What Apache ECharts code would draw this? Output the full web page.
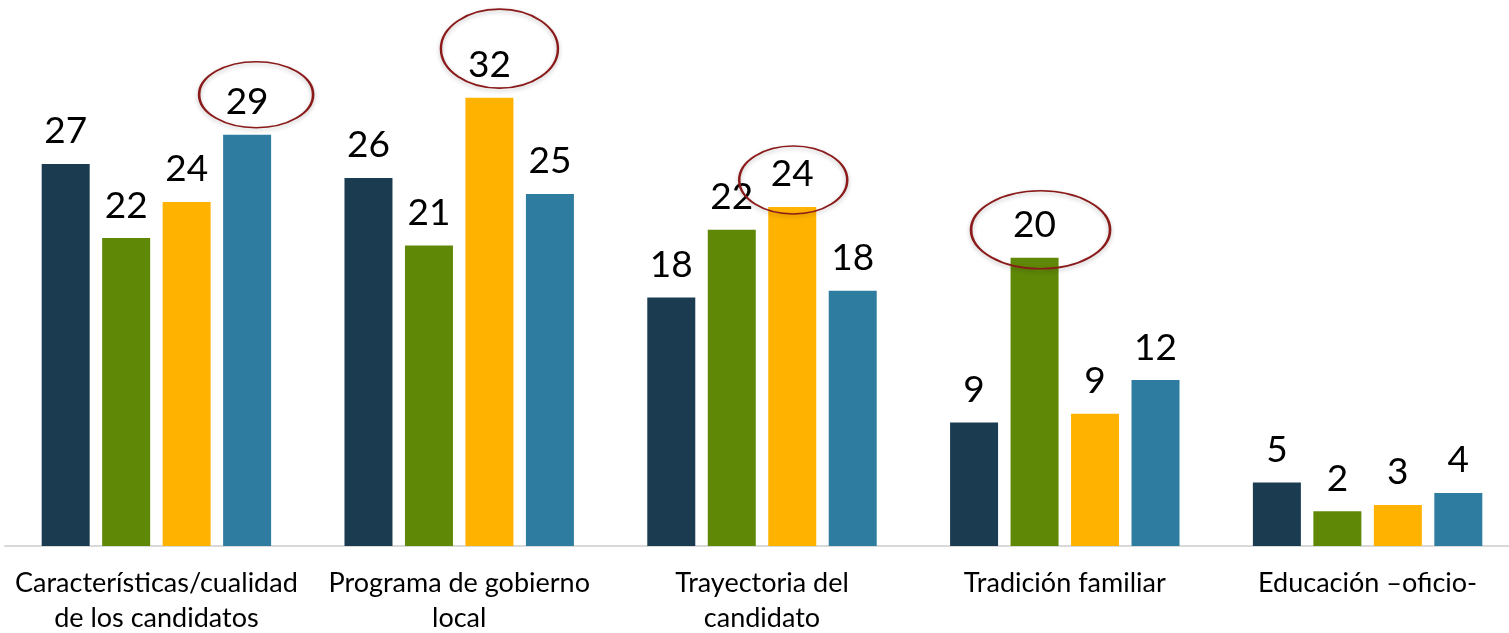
<!DOCTYPE html>
<html>
<head>
<meta charset="utf-8">
<title>Motivos de voto</title>
<script src="https://cdn.jsdelivr.net/npm/echarts@6/dist/echarts.min.js"></script>
<style>
  html, body { margin: 0; padding: 0; background: #fff; }
  #chart { width: 1509px; height: 633px; }
</style>
</head>
<body>
<div id="chart"></div>
<script>
// categorias del eje x
const categorias = [
  'Características/cualidad\nde los candidatos',
  'Programa de gobierno\nlocal',
  'Trayectoria del\ncandidato',
  'Tradición familiar',
  'Educación –oficio-'
];

// valores (las etiquetas muestran el valor redondeado)
const serie1 = [27.15, 26.15, 17.66, 8.77, 4.52];
const serie2 = [21.88, 21.36, 22.47, 20.48, 2.47];
const serie3 = [24.45, 31.86, 24.09, 9.39, 2.92];
const serie4 = [29.23, 25.01, 18.14, 11.79, 3.77];

const nombres = ['Serie 1', 'Serie 2', 'Serie 3', 'Serie 4'];
const colores = ['#1b3c50', '#5f8807', '#ffb300', '#2e7ca0'];

// valores destacados con un ovalo: [serie, categoria]
const destacados = [[3, 0], [2, 1], [2, 2], [1, 3]];

// tamano y desplazamiento de cada ovalo (solo estilo)
const ovalos = {
  '3-0': { size: [114, 66], offset: [9, -40] },
  '2-1': { size: [117, 79], offset: [10, -49] },
  '2-2': { size: [108, 68], offset: [1, -27] },
  '1-3': { size: [139, 78], offset: [6, -28] }
};

const series = [serie1, serie2, serie3, serie4];
const ovaloPath = 'path://M0,50A50,50,0,1,1,100,50A50,50,0,1,1,0,50Z';

const chart = echarts.init(document.getElementById('chart'));

chart.setOption({
  backgroundColor: '#fff',
  animation: false,
  grid: { left: 5, right: -10, top: 0, bottom: 87, outerBoundsMode: 'none', containLabel: false },
  xAxis: {
    type: 'category',
    data: categorias,
    axisLine: { lineStyle: { color: '#d9d9d9', width: 2 } },
    axisTick: { show: false },
    axisLabel: {
      interval: 0,
      margin: 20,
      color: '#000',
      fontFamily: 'Lato',
      fontSize: 27,
      lineHeight: 35
    }
  },
  yAxis: {
    type: 'value',
    min: 0,
    max: 38.8,
    show: false,
    splitLine: { show: false }
  },
  series: series.map((vals, si) => ({
    name: nombres[si],
    type: 'bar',
    data: vals,
    barWidth: 48,
    barGap: '26%',
    itemStyle: { color: colores[si] },
    label: {
      show: true,
      position: 'top',
      distance: 14,
      color: '#000',
      fontFamily: 'Lato',
      fontSize: 37,
      formatter: p => Math.round(p.value)
    },
    markPoint: {
      symbol: ovaloPath,
      label: { show: false },
      itemStyle: {
        color: 'rgba(0,0,0,0)',
        borderColor: '#8b1a1a',
        borderWidth: 2,
        shadowBlur: 4,
        shadowColor: 'rgba(0,0,0,0.25)',
        shadowOffsetY: 2
      },
      data: destacados
        .filter(d => d[0] === si)
        .map(d => {
          const o = ovalos[d[0] + '-' + d[1]];
          return {
            coord: [d[1], vals[d[1]]],
            symbolSize: o.size,
            symbolOffset: o.offset
          };
        })
    }
  }))
});
</script>
</body>
</html>
